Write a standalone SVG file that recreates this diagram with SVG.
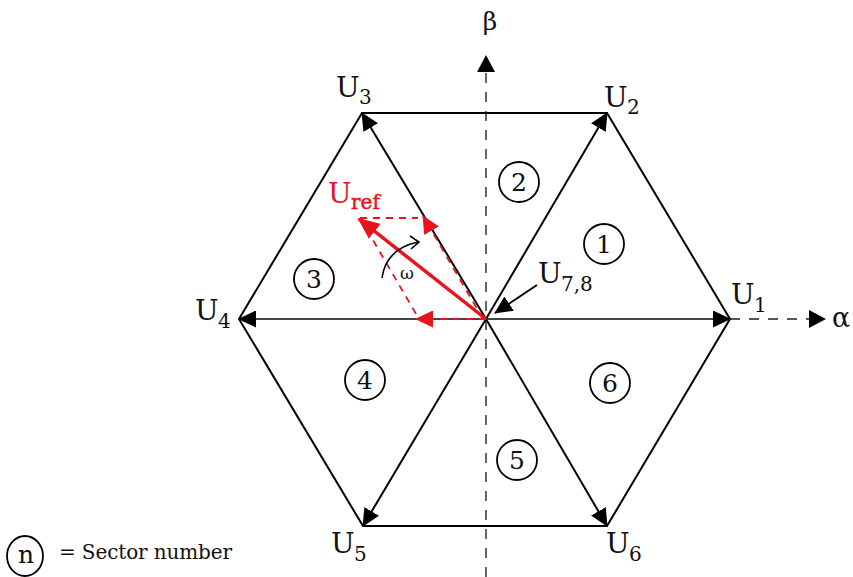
<svg xmlns="http://www.w3.org/2000/svg" width="853" height="577" viewBox="0 0 853 577">
<style>
  text { font-family: "DejaVu Serif", "Liberation Serif", serif; fill: #111; }
  .big { font-size: 28px; }
  .sub { font-size: 20px; }
  .num { font-size: 25px; text-anchor: middle; }
  .red { fill: #e8141c; }
  .edge { stroke: #000; stroke-width: 2; fill: none; }
  .spoke { stroke: #000; stroke-width: 2; fill: none; marker-end: url(#ah); }
  .hspoke { stroke: #444; stroke-width: 1.8; fill: none; marker-end: url(#ah); }
  .axis { stroke: #555; stroke-width: 1.8; stroke-dasharray: 10 9; fill: none; }
  .rdash { stroke: #e8141c; stroke-width: 1.8; stroke-dasharray: 7 6; fill: none; }
  .sec { fill: none; stroke: #000; stroke-width: 1.8; }
</style>
<defs>
  <marker id="ah" markerUnits="userSpaceOnUse" markerWidth="18" markerHeight="17" refX="17" refY="8.5" orient="auto">
    <path d="M0,0 L18,8.5 L0,17 z" fill="#000"/>
  </marker>
  <marker id="rah" markerUnits="userSpaceOnUse" markerWidth="18" markerHeight="17" refX="17" refY="8.5" orient="auto">
    <path d="M0,0 L18,8.5 L0,17 z" fill="#e8141c"/>
  </marker>
  <marker id="rahBig" markerUnits="userSpaceOnUse" markerWidth="22" markerHeight="19" refX="20" refY="9.5" orient="auto">
    <path d="M0,0 L22,9.5 L0,19 z" fill="#e8141c"/>
  </marker>
</defs>
<rect width="853" height="577" fill="#fff"/>

<g id="connectors">
  <line class="axis" x1="486" y1="577" x2="486" y2="72"/>
  <path d="M477,72 L486,55 L495,72 z" fill="#000"/>
  <line class="axis" x1="730" y1="319" x2="810" y2="319"/>
  <path d="M809,310 L826,319 L809,328 z" fill="#000"/>
  <polygon class="edge" points="730,319 607,113 362,113 239,319 363,526 607,526"/>
  <line class="hspoke" x1="486" y1="319" x2="730" y2="319"/>
  <line class="hspoke" x1="486" y1="319" x2="239" y2="319"/>
  <line class="spoke" x1="486" y1="319" x2="607" y2="113"/>
  <line class="spoke" x1="486" y1="319" x2="362" y2="113"/>
  <line class="spoke" x1="486" y1="319" x2="363" y2="526"/>
  <line class="spoke" x1="486" y1="319" x2="607" y2="526"/>
  <line class="spoke" x1="537" y1="285" x2="495" y2="313"/>
  <line class="rdash" x1="360" y1="218" x2="418" y2="218"/>
  <line class="rdash" x1="360" y1="218" x2="419" y2="319"/>
  <line class="rdash" x1="483" y1="319" x2="423" y2="216" marker-end="url(#rah)"/>
  <line class="rdash" x1="486" y1="319" x2="416" y2="319" marker-end="url(#rah)"/>
  <line x1="486" y1="319" x2="359" y2="219" stroke="#e8141c" stroke-width="3.5" marker-end="url(#rahBig)"/>
  <path d="M382,278 Q386,249 418,242" fill="none" stroke="#000" stroke-width="1.6"/>
  <path d="M410,236 L419,242 L411,249" fill="none" stroke="#000" stroke-width="1.6"/>
</g>

<g id="axis-labels">
  <text x="490" y="30" font-size="25" text-anchor="middle">β</text>
  <text x="832" y="327" font-size="27">α</text>
</g>

<g id="U1"><text class="big" x="731" y="304">U</text><text class="sub" x="754" y="312">1</text></g>
<g id="U2"><text class="big" x="604" y="107">U</text><text class="sub" x="627" y="114">2</text></g>
<g id="U3"><text class="big" x="336" y="97">U</text><text class="sub" x="359" y="104">3</text></g>
<g id="U4"><text class="big" x="195" y="320">U</text><text class="sub" x="218" y="328">4</text></g>
<g id="U5"><text class="big" x="331" y="553">U</text><text class="sub" x="354" y="561">5</text></g>
<g id="U6"><text class="big" x="606" y="553">U</text><text class="sub" x="629" y="561">6</text></g>
<g id="U78"><text class="big" x="538" y="283">U</text><text class="sub" x="561" y="291">7,8</text></g>
<g id="Uref"><text class="big red" x="328" y="203">U</text><text class="red" x="351" y="209" font-size="20" stroke="#e8141c" stroke-width="0.5">ref</text></g>
<g id="omega"><text x="407" y="279" font-size="17" text-anchor="middle">ω</text></g>

<g id="sector1"><circle class="sec" cx="604" cy="244" r="20"/><text class="num" x="604" y="253">1</text></g>
<g id="sector2"><circle class="sec" cx="519" cy="182" r="20"/><text class="num" x="519" y="191">2</text></g>
<g id="sector3"><circle class="sec" cx="314" cy="279" r="20"/><text class="num" x="314" y="288">3</text></g>
<g id="sector4"><circle class="sec" cx="365" cy="380" r="20"/><text class="num" x="365" y="389">4</text></g>
<g id="sector5"><circle class="sec" cx="517" cy="460" r="20"/><text class="num" x="517" y="469">5</text></g>
<g id="sector6"><circle class="sec" cx="610" cy="383" r="20"/><text class="num" x="610" y="392">6</text></g>

<g id="legend">
  <ellipse class="sec" cx="25" cy="556" rx="18" ry="20"/>
  <text x="26" y="563" font-size="25" text-anchor="middle">n</text>
  <text x="59" y="559" font-size="20" textLength="173" lengthAdjust="spacing">= Sector number</text>
</g>
</svg>
